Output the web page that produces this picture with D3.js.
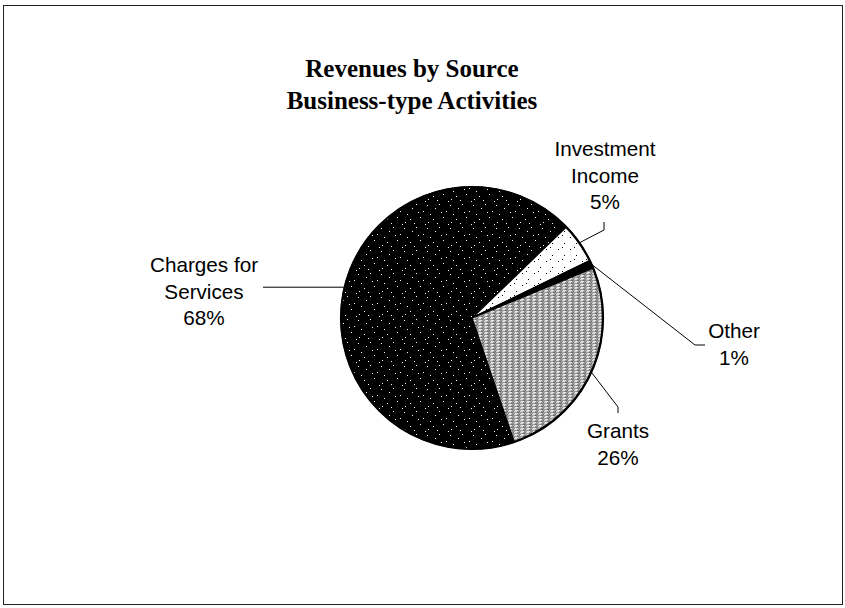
<!DOCTYPE html>
<html>
<head>
<meta charset="utf-8">
<script src="https://cdn.jsdelivr.net/npm/d3@7"></script>
<style>
  html, body { margin: 0; padding: 0; background: #fff; }
  svg { display: block; }
</style>
</head>
<body>
<svg id="chart" width="845" height="608"></svg>
<script>
// Revenue sources, listed clockwise around the pie
const categories = ["Charges for Services", "Investment Income", "Other", "Grants"];
const values = [68, 5, 1, 26];
const labelLines = [["Charges for", "Services"], ["Investment", "Income"], ["Other"], ["Grants"]];
const titleLines = ["Revenues by Source", "Business-type Activities"];

const W = 845, H = 608;
const cx = 472, cy = 318, R = 131;
const svg = d3.select("#chart");

// frame
svg.append("rect")
  .attr("x", 3.5).attr("y", 5.5)
  .attr("width", 839).attr("height", 599)
  .attr("fill", "#fff").attr("stroke", "#222").attr("stroke-width", 1);

// fill textures
const defs = svg.append("defs");
function dotPattern(id, bg, fg, size, dots) {
  const p = defs.append("pattern").attr("id", id)
    .attr("patternUnits", "userSpaceOnUse")
    .attr("width", size).attr("height", size);
  p.append("rect").attr("width", size).attr("height", size).attr("fill", bg);
  dots.forEach(([x, y]) => p.append("rect").attr("x", x).attr("y", y)
    .attr("width", 1).attr("height", 1).attr("fill", fg));
}
dotPattern("pCharges", "#000", "#fff", 23,
  [[1, 2], [9, 5], [4, 11], [17, 14], [13, 1], [20, 8], [2, 19], [11, 20], [7, 16], [15, 9], [22, 21]]);
dotPattern("pInvest", "#fff", "#000", 12,
  [[2, 3], [8, 9], [6, 1]]);
(function () {
  const p = defs.append("pattern").attr("id", "pGrants")
    .attr("patternUnits", "userSpaceOnUse").attr("width", 6).attr("height", 3);
  p.append("rect").attr("width", 6).attr("height", 3).attr("fill", "#9a9a9a");
  [[0, 0, 3, "#d8d8d8"], [3, 1, 2, "#6a6a6a"], [1, 2, 3, "#e6e6e6"], [5, 0, 1, "#707070"]]
    .forEach(([x, y, w, c]) => p.append("rect").attr("x", x).attr("y", y)
      .attr("width", w).attr("height", 1).attr("fill", c));
})();
const fills = ["url(#pCharges)", "url(#pInvest)", "#000", "url(#pGrants)"];

// pie layout: first slice begins a little past 5 o'clock
const startDeg = 161.2;
const pie = d3.pie().sort(null).value(d => d)
  .startAngle(startDeg * Math.PI / 180)
  .endAngle(startDeg * Math.PI / 180 + 2 * Math.PI);
const arcs = pie(values);
const arc = d3.arc().innerRadius(0).outerRadius(R);
const edge = d3.arc().innerRadius(R).outerRadius(R);

const g = svg.append("g").attr("transform", `translate(${cx},${cy})`);
g.selectAll("path.slice").data(arcs).enter().append("path")
  .attr("class", "slice")
  .attr("d", arc)
  .attr("fill", (d, i) => fills[i])
  .attr("stroke", "#000").attr("stroke-width", 1.4).attr("stroke-linejoin", "round");
g.append("circle").attr("r", R).attr("fill", "none")
  .attr("stroke", "#000").attr("stroke-width", 2.2);

// leader lines: from the rim at mid-slice out to each label
const leaderBends = [
  p => [[-209, p[1]]],
  p => [[132, -88], [132, -96]],
  p => [[223, 27], [233, 27]],
  p => [[146, 89], [146, 95]]
];
const line = d3.line();
arcs.forEach((d, i) => {
  const p0 = edge.centroid(d);
  g.append("path")
    .attr("d", line([p0, ...leaderBends[i](p0)]))
    .attr("fill", "none").attr("stroke", "#000").attr("stroke-width", 1);
});

// slice labels: name lines then percentage
const labelAnchors = [[204, 272], [605, 156], [734, 338], [618, 438]];
const fmt = v => `${v}%`;
arcs.forEach((d, i) => {
  const lines = labelLines[i].concat(fmt(values[i]));
  const t = svg.append("text")
    .attr("x", labelAnchors[i][0]).attr("y", labelAnchors[i][1])
    .attr("text-anchor", "middle")
    .attr("font-family", "Arial, 'Liberation Sans', sans-serif")
    .attr("font-size", 20.7).attr("fill", "#000");
  lines.forEach((s, k) => t.append("tspan")
    .attr("x", labelAnchors[i][0]).attr("dy", k === 0 ? 0 : 26.5).text(s));
});

// title
const title = svg.append("text")
  .attr("x", 412).attr("y", 77)
  .attr("text-anchor", "middle")
  .attr("font-family", "'Times New Roman', 'Liberation Serif', serif")
  .attr("font-weight", "bold").attr("font-size", 25).attr("fill", "#000");
titleLines.forEach((s, k) => title.append("tspan")
  .attr("x", 412).attr("dy", k === 0 ? 0 : 32).text(s));
</script>
</body>
</html>
